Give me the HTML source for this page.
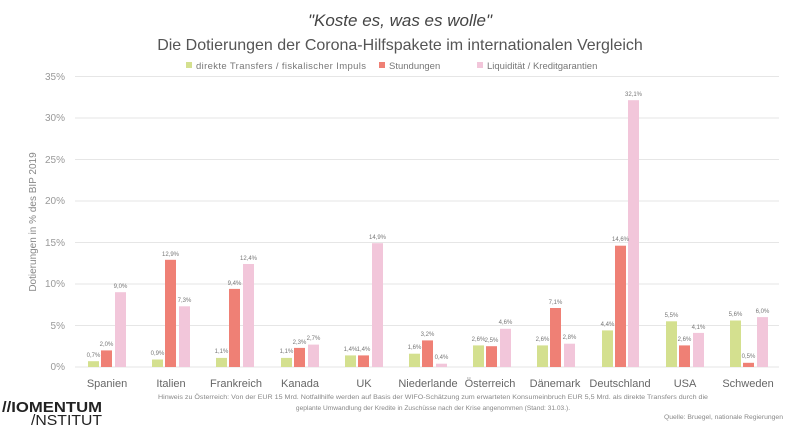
<!DOCTYPE html>
<html><head><meta charset="utf-8"><style>
html,body{margin:0;padding:0;background:#fff;}
svg{display:block;font-family:"Liberation Sans",sans-serif;}
</style></head><body>
<svg width="800" height="426" viewBox="0 0 800 426" xmlns="http://www.w3.org/2000/svg">
<rect width="800" height="426" fill="#fff"/>
<text x="400" y="26" text-anchor="middle" font-size="17" font-style="italic" fill="#444">"Koste es, was es wolle"</text>
<text x="400" y="50" text-anchor="middle" font-size="16" fill="#555">Die Dotierungen der Corona-Hilfspakete im internationalen Vergleich</text>
<g font-size="9.5" fill="#777">
<rect x="186" y="62" width="6" height="6" fill="#d4e08f"/><text x="196" y="69" textLength="170">direkte Transfers / fiskalischer Impuls</text>
<rect x="379" y="62" width="6" height="6" fill="#ef8075"/><text x="389" y="69">Stundungen</text>
<rect x="477" y="62" width="6" height="6" fill="#f2c6da"/><text x="487" y="69">Liquidität / Kreditgarantien</text>
</g>
<g stroke="#e6e6e6" stroke-width="1">
<line x1="75" x2="779" y1="76.5" y2="76.5"/><line x1="75" x2="779" y1="118" y2="118"/>
<line x1="75" x2="779" y1="159.5" y2="159.5"/><line x1="75" x2="779" y1="201" y2="201"/>
<line x1="75" x2="779" y1="242.5" y2="242.5"/><line x1="75" x2="779" y1="284" y2="284"/>
<line x1="75" x2="779" y1="325.5" y2="325.5"/><line x1="75" x2="779" y1="367" y2="367"/>
</g>
<g font-size="10" fill="#999" text-anchor="end">
<text x="65" y="80">35%</text><text x="65" y="121">30%</text><text x="65" y="163">25%</text>
<text x="65" y="204">20%</text><text x="65" y="246">15%</text><text x="65" y="287">10%</text>
<text x="65" y="329">5%</text><text x="65" y="370">0%</text>
</g>
<text transform="translate(36,222) rotate(-90)" text-anchor="middle" font-size="10" fill="#888">Dotierungen in % des BIP 2019</text>
<g>
<rect x="88" y="361.2" width="11" height="5.8" fill="#d4e08f"/><rect x="101" y="350.4" width="11" height="16.6" fill="#ef8075"/><rect x="115" y="292.2" width="11" height="74.8" fill="#f2c6da"/>
<rect x="152" y="359.5" width="11" height="7.5" fill="#d4e08f"/><rect x="165" y="259.8" width="11" height="107.2" fill="#ef8075"/><rect x="179" y="306.3" width="11" height="60.7" fill="#f2c6da"/>
<rect x="216" y="357.9" width="11" height="9.1" fill="#d4e08f"/><rect x="229" y="288.9" width="11" height="78.1" fill="#ef8075"/><rect x="243" y="264" width="11" height="103" fill="#f2c6da"/>
<rect x="281" y="357.9" width="11" height="9.1" fill="#d4e08f"/><rect x="294" y="347.9" width="11" height="19.1" fill="#ef8075"/><rect x="308" y="344.6" width="11" height="22.4" fill="#f2c6da"/>
<rect x="345" y="355.4" width="11" height="11.6" fill="#d4e08f"/><rect x="358" y="355.4" width="11" height="11.6" fill="#ef8075"/><rect x="372" y="243.2" width="11" height="123.8" fill="#f2c6da"/>
<rect x="409" y="353.7" width="11" height="13.3" fill="#d4e08f"/><rect x="422" y="340.4" width="11" height="26.6" fill="#ef8075"/><rect x="436" y="363.7" width="11" height="3.3" fill="#f2c6da"/>
<rect x="473" y="345.4" width="11" height="21.6" fill="#d4e08f"/><rect x="486" y="346.2" width="11" height="20.8" fill="#ef8075"/><rect x="500" y="328.8" width="11" height="38.2" fill="#f2c6da"/>
<rect x="537" y="345.4" width="11" height="21.6" fill="#d4e08f"/><rect x="550" y="308" width="11" height="59" fill="#ef8075"/><rect x="564" y="343.7" width="11" height="23.3" fill="#f2c6da"/>
<rect x="602" y="330.4" width="11" height="36.6" fill="#d4e08f"/><rect x="615" y="245.7" width="11" height="121.3" fill="#ef8075"/><rect x="628" y="100.2" width="11" height="266.8" fill="#f2c6da"/>
<rect x="666" y="321.3" width="11" height="45.7" fill="#d4e08f"/><rect x="679" y="345.4" width="11" height="21.6" fill="#ef8075"/><rect x="693" y="332.9" width="11" height="34.1" fill="#f2c6da"/>
<rect x="730" y="320.5" width="11" height="46.5" fill="#d4e08f"/><rect x="743" y="362.8" width="11" height="4.2" fill="#ef8075"/><rect x="757" y="317.1" width="11" height="49.9" fill="#f2c6da"/>
</g>
<g font-size="6" fill="#777" text-anchor="middle">
<text x="93.5" y="357">0,7%</text><text x="106.5" y="346">2,0%</text><text x="120.5" y="288">9,0%</text>
<text x="157.5" y="355">0,9%</text><text x="170.5" y="256">12,9%</text><text x="184.5" y="302">7,3%</text>
<text x="221.5" y="353">1,1%</text><text x="234.5" y="285">9,4%</text><text x="248.5" y="260">12,4%</text>
<text x="286.5" y="353">1,1%</text><text x="299.5" y="344">2,3%</text><text x="313.5" y="340">2,7%</text>
<text x="350.5" y="351">1,4%</text><text x="363.5" y="351">1,4%</text><text x="377.5" y="239">14,9%</text>
<text x="414.5" y="349">1,6%</text><text x="427.5" y="336">3,2%</text><text x="441.5" y="359">0,4%</text>
<text x="478.5" y="341">2,6%</text><text x="491.5" y="342">2,5%</text><text x="505.5" y="324">4,6%</text>
<text x="542.5" y="341">2,6%</text><text x="555.5" y="304">7,1%</text><text x="569.5" y="339">2,8%</text>
<text x="607.5" y="326">4,4%</text><text x="620.5" y="241">14,6%</text><text x="633.5" y="96">32,1%</text>
<text x="671.5" y="317">5,5%</text><text x="684.5" y="341">2,6%</text><text x="698.5" y="329">4,1%</text>
<text x="735.5" y="316">5,6%</text><text x="748.5" y="358">0,5%</text><text x="762.5" y="313">6,0%</text>
</g>
<g font-size="11" fill="#666" text-anchor="middle">
<text x="107" y="387">Spanien</text><text x="171" y="387">Italien</text><text x="236" y="387">Frankreich</text>
<text x="300" y="387">Kanada</text><text x="364" y="387">UK</text><text x="428" y="387">Niederlande</text>
<text x="490" y="387">Österreich</text><text x="555" y="387">Dänemark</text><text x="620" y="387">Deutschland</text>
<text x="685" y="387">USA</text><text x="748" y="387">Schweden</text>
</g>
<g font-size="6.6" fill="#888" text-anchor="middle">
<text x="433" y="399" textLength="550" lengthAdjust="spacingAndGlyphs">Hinweis zu Österreich: Von der EUR 15 Mrd. Notfallhilfe werden auf Basis der WIFO-Schätzung zum erwarteten Konsumeinbruch EUR 5,5 Mrd. als direkte Transfers durch die</text>
<text x="433" y="410">geplante Umwandlung der Kredite in Zuschüsse nach der Krise angenommen (Stand: 31.03.).</text>
</g>
<text x="783" y="419" text-anchor="end" font-size="6.8" fill="#888">Quelle: Bruegel, nationale Regierungen</text>
<text x="2" y="412" font-size="15" font-weight="bold" fill="#222" textLength="100" lengthAdjust="spacingAndGlyphs">//IOMENTUM</text>
<text x="31" y="425" font-size="15" fill="#222" textLength="71" lengthAdjust="spacingAndGlyphs">/NSTITUT</text>
</svg>
</body></html>
